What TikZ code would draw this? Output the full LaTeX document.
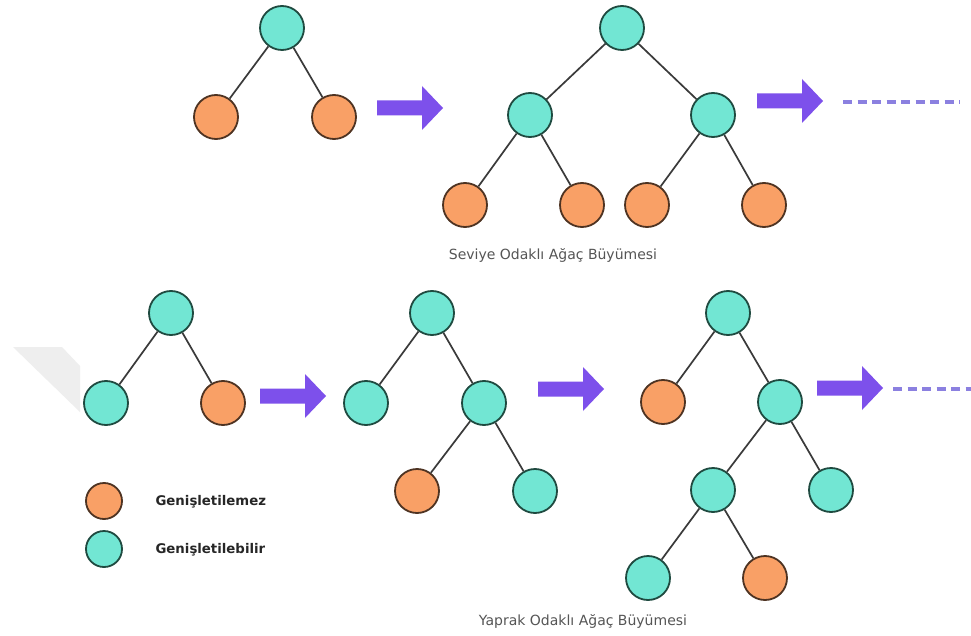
\documentclass[tikz,border=0pt]{standalone}
\usepackage{fontspec}
\setmainfont{DejaVu Sans}
\definecolor{tealfill}{HTML}{72E6D3}
\definecolor{tealline}{HTML}{1F4A40}
\definecolor{orgfill}{HTML}{F9A066}
\definecolor{orgline}{HTML}{4E3322}
\definecolor{edgec}{HTML}{3A3A3A}
\definecolor{arrowc}{HTML}{7D50EB}
\definecolor{dashc}{HTML}{8B80E0}
\definecolor{capc}{HTML}{555555}
\definecolor{wmark}{HTML}{EEEEEE}
\tikzset{
  tnode/.style={circle, minimum size=44pt, inner sep=0pt, line width=1.8pt},
  opennode/.style={tnode, fill=tealfill, draw=tealline},
  shutnode/.style={tnode, fill=orgfill, draw=orgline},
  legdot/.style={minimum size=36pt},
  edge/.style={draw=edgec, line width=1.7pt},
  trail/.style={draw=dashc, line width=4pt, dash pattern=on 9pt off 5.5pt},
  caption/.style={font=\fontsize{14}{16}\selectfont, text=capc},
  legtext/.style={font=\fontsize{13.3}{15}\selectfont\bfseries, text=black!85, anchor=west},
}
% thick step arrow between stages
\newcommand\stagearrow[2]{%
  \fill[arrowc] (#1,{#2-7.5}) -- ({#1+45},{#2-7.5}) -- ({#1+45},{#2-22})
    -- ({#1+66},#2) -- ({#1+45},{#2+22}) -- ({#1+45},{#2+7.5}) -- (#1,{#2+7.5}) -- cycle;}
\begin{document}
\begin{tikzpicture}[x=1pt,y=-1pt]
\useasboundingbox (0,0) rectangle (971,636);
\fill[white] (0,0) rectangle (971,636);
% faint background mark
\fill[wmark] (13,347) -- (62,347) -- (80,366) -- (80,412) -- cycle;

% ---- level-wise growth ----
\node[opennode] (a0) at (282,28) {};
\node[shutnode] (a1) at (216,117) {};
\node[shutnode] (a2) at (334,117) {};
\draw[edge] (a0) -- (a1) (a0) -- (a2);
\stagearrow{377}{108}

\node[opennode] (b0) at (622,28) {};
\node[opennode] (b1) at (530,115) {};
\node[opennode] (b2) at (713,115) {};
\node[shutnode] (b3) at (465,205) {};
\node[shutnode] (b4) at (582,205) {};
\node[shutnode] (b5) at (647,205) {};
\node[shutnode] (b6) at (764,205) {};
\draw[edge] (b0) -- (b1) (b0) -- (b2) (b1) -- (b3) (b1) -- (b4) (b2) -- (b5) (b2) -- (b6);
\stagearrow{757}{101}
\coordinate (tA) at (843,102);
\coordinate (tB) at (960,102);
\draw[trail] (tA) -- (tB);
\node[caption] (capA) at (553,255) {Seviye Odaklı Ağaç Büyümesi};

% ---- leaf-wise growth ----
\node[opennode] (c0) at (171,313) {};
\node[opennode] (c1) at (106,403) {};
\node[shutnode] (c2) at (223,403) {};
\draw[edge] (c0) -- (c1) (c0) -- (c2);
\stagearrow{260}{396}

\node[opennode] (d0) at (432,313) {};
\node[opennode] (d1) at (366,403) {};
\node[opennode] (d2) at (484,403) {};
\node[shutnode] (d3) at (417,491) {};
\node[opennode] (d4) at (535,491) {};
\draw[edge] (d0) -- (d1) (d0) -- (d2) (d2) -- (d3) (d2) -- (d4);
\stagearrow{538}{389}

\node[opennode] (e0) at (728,313) {};
\node[shutnode] (e1) at (663,402) {};
\node[opennode] (e2) at (780,402) {};
\node[opennode] (e3) at (713,490) {};
\node[opennode] (e4) at (831,490) {};
\node[opennode] (e5) at (648,578) {};
\node[shutnode] (e6) at (765,578) {};
\draw[edge] (e0) -- (e1) (e0) -- (e2) (e2) -- (e3) (e2) -- (e4) (e3) -- (e5) (e3) -- (e6);
\stagearrow{817}{388}
\coordinate (tC) at (893,389);
\coordinate (tD) at (975,389);
\draw[trail] (tC) -- (tD);
\node[caption] (capB) at (583,621) {Yaprak Odaklı Ağaç Büyümesi};

% ---- legend ----
\node[shutnode, legdot] (l1) at (104,501) {};
\node[legtext] (l1t) at (152,502) {Genişletilemez};
\node[opennode, legdot] (l2) at (104,549) {};
\node[legtext] (l2t) at (152,550) {Genişletilebilir};
\end{tikzpicture}
\end{document}
